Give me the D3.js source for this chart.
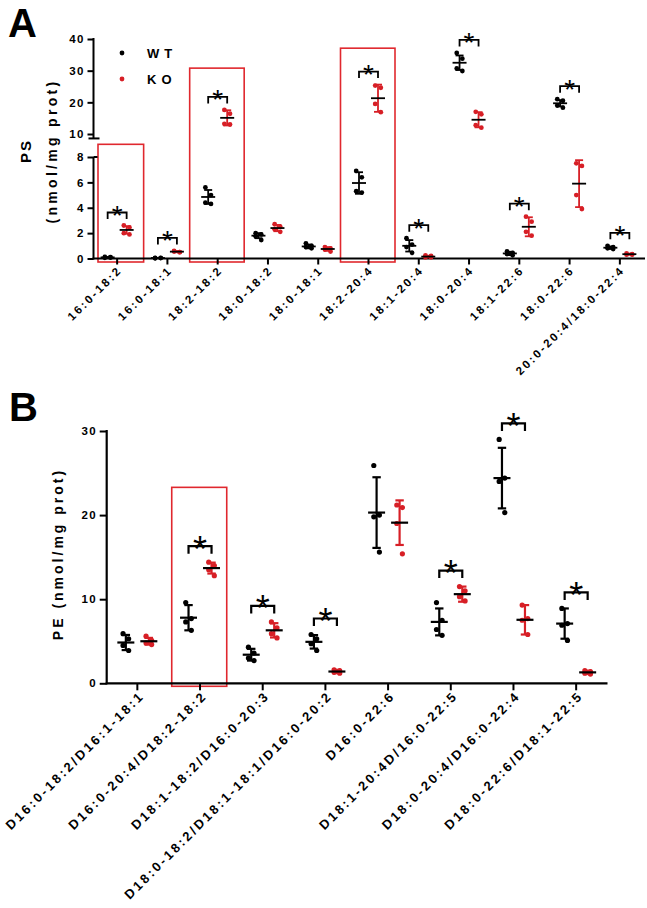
<!DOCTYPE html>
<html><head><meta charset="utf-8">
<script src="https://cdn.jsdelivr.net/npm/d3@7"></script>
<style>
body{margin:0;background:#fff}
text{font-family:"Liberation Sans",Arial,Helvetica,sans-serif;font-weight:bold;fill:#000}
</style>
</head><body>
<svg id="chart" width="647" height="908" xmlns="http://www.w3.org/2000/svg"></svg>
<script>
// ---------------- DATA ----------------
const psCategories = ["16:0-18:2","16:0-18:1","18:2-18:2","18:0-18:2","18:0-18:1","18:2-20:4","18:1-20:4","18:0-20:4","18:1-22:6","18:0-22:6","20:0-20:4/18:0-22:4"];
const psWT = [[0.12,0.08,0.05,0.1],[0.04,0.03,0.02,0.05],[5.6,5.0,4.4,4.3],[2.0,1.9,1.75,1.45],[1.2,1.0,0.9,0.8],[6.9,6.4,5.3,5.2],[1.6,1.1,0.9,0.45],[35.6,33.8,30.7,29.9],[0.55,0.45,0.35,0.25],[21.0,20.5,19.0,18.3],[1.0,0.9,0.8,0.75]];
const psWTMean = [0.09,0.04,4.85,1.8,0.95,5.95,1.0,32.5,0.4,19.7,0.85];
const psWTSd   = [0.03,0.01,0.55,0.2,0.15,0.85,0.45,2.3,0.13,1.0,0.1];
const psKO = [[2.6,2.45,2.0,1.9],[0.55,0.5,0.6,0.5],[17.6,16.4,13.2,13.0],[2.7,2.5,2.3,2.1],[0.9,0.8,0.7,0.55],[25.3,24.6,19.5,16.9],[0.25,0.2,0.1,0.1],[17.0,16.2,12.8,12.0],[3.3,2.9,2.1,1.8],[7.5,7.3,5.0,3.9],[0.4,0.35,0.3,0.3]];
const psKOMean = [2.25,0.54,15.1,2.4,0.75,21.3,0.15,14.5,2.5,5.9,0.34];
const psKOSd   = [0.3,0.05,2.4,0.25,0.15,4.3,0.07,2.4,0.75,1.85,0.05];
const psSig = [1,1,1,0,0,1,1,1,1,1,1];
const psHighlight = ["16:0-18:2","18:2-18:2","18:2-20:4"];
const psHighlightTop = [9.0,30.8,37.1];
const psTicksLow = [0,2,4,6,8];
const psTicksHigh = [10,20,30,40];

const peCategories = ["D16:0-18:2/D16:1-18:1","D16:0-20:4/D18:2-18:2","D18:1-18:2/D16:0-20:3","D18:0-18:2/D18:1-18:1/D16:0-20:2","D16:0-22:6","D18:1-20:4D/16:0-22:5","D18:0-20:4/D16:0-22:4","D18:0-22:6/D18:1-22:5"];
const peWT = [[5.9,5.3,4.5,3.9],[9.6,7.7,7.3,6.3],[4.3,3.6,3.0,2.7],[5.8,5.3,4.7,3.9],[25.9,20.0,19.8,15.6],[9.6,7.5,6.4,5.7],[29.0,24.4,24.0,20.3],[8.9,7.1,6.9,5.1]];
const peWTMean = [4.85,7.8,3.4,4.93,20.3,7.3,24.4,7.1];
const peWTSd   = [0.9,1.5,0.7,0.8,4.2,1.6,3.6,1.8];
const peKO = [[5.6,5.1,4.8,4.6],[14.4,14.0,13.5,12.8],[7.3,6.6,5.9,5.4],[1.6,1.5,1.3,1.2],[21.2,20.9,19.0,15.4],[11.5,11.0,10.3,9.8],[9.3,7.7,7.5,5.8],[1.5,1.4,1.2,1.1]];
const peKOMean = [5.0,13.7,6.3,1.4,19.1,10.6,7.55,1.3];
const peKOSd   = [0.4,0.65,0.85,0.2,2.65,0.9,1.75,0.2];
const peSig = [0,1,1,1,0,1,1,1];
const peHighlight = ["D16:0-20:4/D18:2-18:2"];
const peHighlightTop = [23.3];
const peTicks = [0,10,20,30];

const seriesNames = ["WT","KO"];
// ---------------- STYLE ----------------
const BLACK = "#000", RED = "#d71f26", BOX = "#e0282e";
const svg = d3.select("#chart");

function jitter(j){ return [-2.8,2.8,-2.8,2.8][j%4]; }

function drawGroups(g, cats, x, y, series, cfg){
  cats.forEach((c,i)=>{
    const cx = x(c) + x.bandwidth()/2;
    series.forEach(s=>{
      const gx = cx + s.off;
      s.pts[i].forEach((v,j)=>{
        g.append("circle").attr("cx",gx+jitter(j)).attr("cy",y(v)).attr("r",cfg.r).attr("fill",s.color);
      });
      const m = s.mean[i], sd = s.sd[i];
      const yt = y(m+sd), yb = y(Math.max(0,m-sd));
      g.append("line").attr("x1",gx).attr("x2",gx).attr("y1",yt).attr("y2",yb).attr("stroke",s.color).attr("stroke-width",cfg.sw);
      [yt,yb].forEach(yy=> g.append("line").attr("x1",gx-cfg.cap).attr("x2",gx+cfg.cap).attr("y1",yy).attr("y2",yy).attr("stroke",s.color).attr("stroke-width",cfg.sw));
      g.append("line").attr("x1",gx-cfg.meanW).attr("x2",gx+cfg.meanW).attr("y1",y(m)).attr("y2",y(m)).attr("stroke",BLACK).attr("stroke-width",cfg.sw);
    });
    if(cfg.sig[i]){
      let top = Infinity;
      series.forEach(s=>{
        const mx = Math.max(d3.max(s.pts[i]), s.mean[i]+s.sd[i]);
        top = Math.min(top, y(mx));
      });
      const by = top - cfg.gap;
      const x1 = cx + series[0].off, x2 = cx + series[1].off;
      g.append("path").attr("d",`M${x1},${by+cfg.tail}V${by}H${x2}V${by+cfg.tail}`).attr("fill","none").attr("stroke",BLACK).attr("stroke-width",cfg.sw);
      g.append("text").attr("x",(x1+x2)/2).attr("y",by+cfg.starDy).attr("text-anchor","middle")
        .style("font-weight","normal").style("font-size",cfg.starSize+"px").text("*");
    }
  });
}

function styleXAxis(ax, fs, ls, dx, dy){
  ax.select(".domain").remove();
  ax.selectAll(".tick line").attr("stroke",BLACK).attr("stroke-width",2);
  ax.selectAll(".tick text").attr("x",0).attr("y",0).attr("dy",0).attr("dx",ls)
    .attr("text-anchor","end").attr("transform",`translate(${dx},${dy}) rotate(-45)`)
    .style("font-size",fs+"px").style("letter-spacing",ls+"px").attr("fill",BLACK);
}
function styleYAxis(ax, fs, ls){
  ax.select(".domain").remove();
  ax.selectAll(".tick line").attr("stroke",BLACK).attr("stroke-width",2);
  ax.selectAll(".tick text").attr("dx",ls).style("font-size",fs+"px").style("letter-spacing",ls+"px").attr("fill",BLACK);
}

// ================= PANEL A =================
const gA = svg.append("g");
const axAX = 93.5;
const xA = d3.scaleBand().domain(psCategories).range([92,645]);
const yAlow = d3.scaleLinear().domain([0,8]).range([258.5,157]);
const yAhigh = d3.scaleLinear().domain([10,40]).range([134,39]);
const yA = v => v < 9.5 ? yAlow(v) : yAhigh(v);

psHighlight.forEach((c,k)=>{
  const cx = xA(c)+xA.bandwidth()/2;
  const x0 = Math.max(cx-28, axAX+4.5);
  gA.append("rect").attr("x",x0).attr("y",yA(psHighlightTop[k])).attr("width",cx+26.5-x0)
    .attr("height",yAlow(0)+3.5-yA(psHighlightTop[k])).attr("fill","none").attr("stroke",BOX).attr("stroke-width",1.6);
});

const yAxL = gA.append("g").attr("transform",`translate(${axAX},0)`).call(d3.axisLeft(yAlow).tickValues(psTicksLow).tickSize(6).tickPadding(4));
styleYAxis(yAxL, 11.5, 1.5);
const yAxH = gA.append("g").attr("transform",`translate(${axAX},0)`).call(d3.axisLeft(yAhigh).tickValues(psTicksHigh).tickSize(6).tickPadding(4));
styleYAxis(yAxH, 11.5, 1.5);
gA.append("line").attr("x1",axAX).attr("x2",axAX).attr("y1",yAhigh(40)-1).attr("y2",yAhigh(8.6)).attr("stroke",BLACK).attr("stroke-width",2);
gA.append("line").attr("x1",axAX-5).attr("x2",axAX+6).attr("y1",yAhigh(8.6)).attr("y2",yAhigh(8.6)).attr("stroke",BLACK).attr("stroke-width",2);
gA.append("line").attr("x1",axAX).attr("x2",axAX).attr("y1",yAlow(8)).attr("y2",yAlow(0)+1).attr("stroke",BLACK).attr("stroke-width",2);
gA.append("line").attr("x1",axAX).attr("x2",axAX+4).attr("y1",yAlow(8)).attr("y2",yAlow(8)).attr("stroke",BLACK).attr("stroke-width",2);

const xAxA = gA.append("g").attr("transform",`translate(0,${yAlow(0)})`).call(d3.axisBottom(xA).tickSize(6).tickSizeOuter(0));
styleXAxis(xAxA, 11.5, 2.4, 4, 14);
gA.append("line").attr("x1",axAX-1).attr("x2",645).attr("y1",yAlow(0)).attr("y2",yAlow(0)).attr("stroke",BLACK).attr("stroke-width",2);

drawGroups(gA, psCategories, xA, yA, [
  {pts:psWT, mean:psWTMean, sd:psWTSd, color:BLACK, off:-9.5},
  {pts:psKO, mean:psKOMean, sd:psKOSd, color:RED, off:9.5}
], {r:2.4, sw:1.8, cap:4, meanW:7, sig:psSig, gap:13, tail:6.5, starSize:28, starDy:12.5});

[[BLACK,53],[RED,79]].forEach((d,k)=>{
  gA.append("circle").attr("cx",122).attr("cy",d[1]).attr("r",2.4).attr("fill",d[0]);
  gA.append("text").attr("x",147).attr("y",d[1]+5).style("font-size","13px").style("letter-spacing","5px").text(seriesNames[k]);
});

gA.append("text").attr("transform","translate(31,151) rotate(-90)").attr("text-anchor","middle").style("font-size","15px").style("letter-spacing","2px").text("PS");
gA.append("text").attr("transform","translate(57,151) rotate(-90)").attr("text-anchor","middle").style("font-size","14px").style("letter-spacing","3.3px").text("(nmol/mg prot)");
svg.append("text").attr("x",8).attr("y",37).style("font-size","40px").text("A");

// ================= PANEL B =================
const gB = svg.append("g");
const axBX = 106.7;
const xB = d3.scaleBand().domain(peCategories).range([106,607.5]);
const yB = d3.scaleLinear().domain([0,30]).range([683.3,431]);

peHighlight.forEach((c,k)=>{
  const cx = xB(c)+xB.bandwidth()/2;
  gB.append("rect").attr("x",cx-28.3).attr("y",yB(peHighlightTop[k])).attr("width",55)
    .attr("height",yB(0)+3-yB(peHighlightTop[k])).attr("fill","none").attr("stroke",BOX).attr("stroke-width",1.6);
});

const yAxB = gB.append("g").attr("transform",`translate(${axBX},0)`).call(d3.axisLeft(yB).tickValues(peTicks).tickSize(7).tickPadding(4));
styleYAxis(yAxB, 11.5, 1.5);
gB.append("line").attr("x1",axBX).attr("x2",axBX).attr("y1",yB(30)-1).attr("y2",yB(0)+1).attr("stroke",BLACK).attr("stroke-width",2.2);

const xAxB = gB.append("g").attr("transform",`translate(0,${yB(0)})`).call(d3.axisBottom(xB).tickSize(7).tickSizeOuter(0));
styleXAxis(xAxB, 13, 2.6, 6, 15);
gB.append("line").attr("x1",axBX-1).attr("x2",607.5).attr("y1",yB(0)).attr("y2",yB(0)).attr("stroke",BLACK).attr("stroke-width",2.2);

drawGroups(gB, peCategories, xB, yB, [
  {pts:peWT, mean:peWTMean, sd:peWTSd, color:BLACK, off:-11.5},
  {pts:peKO, mean:peKOMean, sd:peKOSd, color:RED, off:11.5}
], {r:2.6, sw:2.2, cap:4.2, meanW:8.5, sig:peSig, gap:16, tail:7.5, starSize:36, starDy:15.5});

gB.append("text").attr("transform","translate(63,554) rotate(-90)").attr("text-anchor","middle").style("font-size","14px").style("letter-spacing","3px").text("PE (nmol/mg prot)");
svg.append("text").attr("x",9).attr("y",421).style("font-size","40px").text("B");
</script>
</body></html>
